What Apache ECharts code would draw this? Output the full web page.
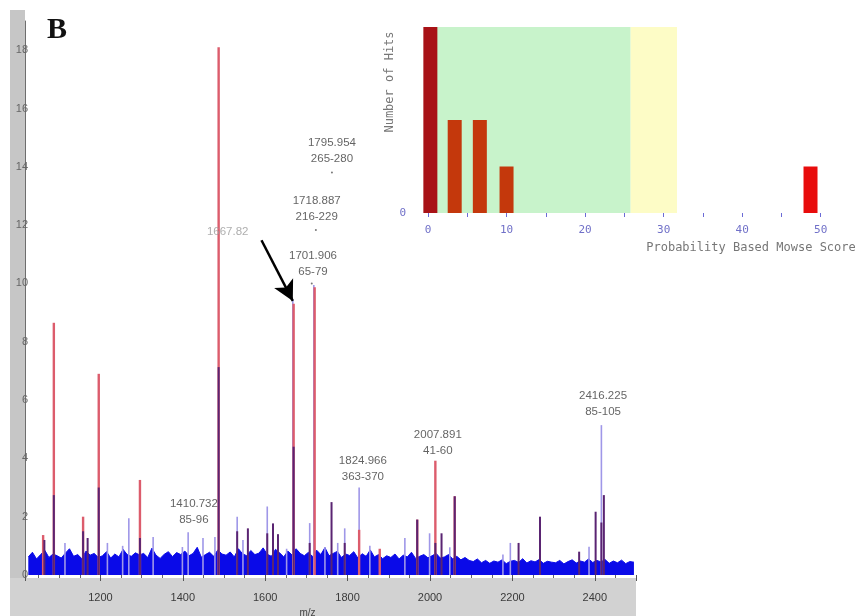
<!DOCTYPE html>
<html><head><meta charset="utf-8">
<script src="https://cdn.jsdelivr.net/npm/echarts@6/dist/echarts.min.js"></script>
<style>html,body{margin:0;padding:0;background:#fff}#c{width:860px;height:616px}</style>
</head><body><div id="c"></div>
<script>
// ===== Main spectrum data (m/z vs intensity) =====
const noiseStartMz = 1025;
const noiseStepMz = 10;
const noiseHeights = [
  0.62,0.78,0.55,0.70,0.85,0.60,0.72,0.66,
  0.58,0.75,0.90,0.64,0.70,0.56,0.82,0.68,0.74,0.60,
  0.66,0.80,0.58,0.72,0.62,0.88,0.70,0.64,0.76,0.69,
  0.74,0.60,0.92,0.68,0.57,0.71,0.80,0.63,0.77,0.70,
  0.82,0.66,0.74,0.95,0.61,0.70,0.78,0.64,0.86,0.72,
  0.68,0.79,0.62,0.90,0.73,0.66,0.84,0.70,0.75,0.93,
  0.71,0.64,0.88,0.76,0.62,0.82,0.69,0.90,0.74,0.66,
  0.78,0.63,0.85,0.70,0.94,0.66,0.74,0.81,0.60,0.72,
  0.67,0.80,0.58,0.73,0.64,0.86,0.62,0.70,0.56,0.66,
  0.60,0.72,0.55,0.68,0.62,0.78,0.57,0.64,0.70,0.59,
  0.66,0.74,0.58,0.62,0.70,0.55,0.64,0.52,0.60,0.50,
  0.46,0.55,0.42,0.50,0.40,0.48,0.44,0.52,0.39,0.47,
  0.50,0.43,0.56,0.41,0.49,0.45,0.53,0.40,0.47,0.44,
  0.42,0.50,0.38,0.46,0.52,0.41,0.48,0.44,0.55,0.43,
  0.50,0.45,0.53,0.40,0.48,0.42,0.51,0.39,0.46,0.44
];
const redMz = [1061, 1087, 1158, 1196, 1296, 1487, 1669, 1720, 1828, 1878, 1969, 2013, 2060];
const redH  = [1.37, 8.65, 2.0, 6.9, 3.26, 18.1, 9.3, 9.87, 1.55, 0.9, 1.9, 3.92, 2.7];
const purpleMz = [1064, 1087, 1158, 1169, 1196, 1296, 1487, 1532, 1558, 1605, 1619, 1631, 1669, 1708, 1761, 1793, 1969, 2013, 2028, 2060, 2215, 2267, 2362, 2402, 2416, 2422];
const purpleH  = [1.2, 2.74, 1.5, 1.27, 3.0, 1.27, 7.13, 1.5, 1.6, 1.43, 1.77, 1.4, 4.4, 1.1, 2.5, 1.1, 1.9, 1.1, 1.43, 2.7, 1.1, 2.0, 0.8, 2.17, 1.8, 2.74];
const lightMz = [1114, 1217, 1254, 1269, 1328, 1399, 1413, 1449, 1478, 1532, 1546, 1605, 1652, 1667, 1708, 1718, 1745, 1776, 1793, 1828, 1854, 1939, 1999, 2048, 2177, 2195, 2386, 2416];
const lightH  = [1.1, 1.1, 1.0, 1.95, 1.3, 0.96, 1.47, 1.27, 1.3, 2.0, 1.2, 2.35, 0.9, 9.45, 1.78, 9.95, 0.96, 1.1, 1.6, 3.0, 1.0, 1.27, 1.43, 0.95, 0.7, 1.1, 0.97, 5.14];

// annotations (data coordinates)
const annText = ['1667.82', '1701.906\n65-79', '1718.887\n216-229', '1795.954\n265-280', '1410.732\n85-96', '1824.966\n363-370', '2007.891\n41-60', '2416.225\n85-105'];
const annMz = [1509, 1716, 1725, 1762, 1427, 1837, 2019, 2420];
const annH  = [11.76, 10.68, 12.56, 14.54, 2.18, 3.65, 4.54, 5.86];
const dotMz = [1713, 1723, 1762];
const dotH  = [10.0, 11.83, 13.8];
const arrowFrom = [1591, 11.48];
const arrowTo = [1667, 9.4];

// ===== Inset histogram data =====
const scoreBins = [0.3, 3.4, 6.6, 10, 48.7];
const hits = [4, 2, 2, 1, 1];
const greenZone = [0, 25.8];
const yellowZone = [25.8, 31.7];
const barColors = ['#a81216', '#c4380c', '#c4380c', '#c4380c', '#e80c0c'];

// ===== build =====
const noiseData = noiseHeights.map((h, i) => [noiseStartMz + i * noiseStepMz, h]);
const pairs = (xs, ys) => xs.map((x, i) => [x, ys[i]]);

function stickSeries(name, data, color, width, z) {
  return {
    name, type: 'custom', xAxisIndex: 0, yAxisIndex: 0, z,
    data, encode: {x: 0, y: 1},
    renderItem: function (params, api) {
      const p0 = api.coord([api.value(0), 0]);
      const p1 = api.coord([api.value(0), api.value(1)]);
      return {type: 'line', shape: {x1: p0[0], y1: p0[1], x2: p1[0], y2: p1[1]},
              style: {stroke: color, lineWidth: width}};
    }
  };
}

const annData = annText.map((t, i) => ({
  name: t, value: [annMz[i], annH[i]],
  label: {color: i === 0 ? '#9a9a9a' : '#3c3c3c'}
}));

const chart = echarts.init(document.getElementById('c'), null, {renderer: 'canvas'});
chart.setOption({
  animation: false,
  backgroundColor: '#fff',
  graphic: [
    {type: 'rect', z: -10, shape: {x: 10, y: 10, width: 15, height: 606}, style: {fill: '#c6c6c6'}},
    {type: 'rect', z: -10, shape: {x: 10, y: 578, width: 626, height: 38}, style: {fill: '#d2d2d2'}},
    {type: 'text', z: 10, x: 47, y: 15, style: {text: 'B', font: 'bold 30px "Liberation Serif"', fill: '#111', verticalAlign: 'top'}},
    {type: 'text', z: 10, x: 390, y: 82, rotation: Math.PI / 2,
      style: {text: 'Number of Hits', font: '12px "DejaVu Sans Mono"', fill: '#777', align: 'center', verticalAlign: 'middle'}},
    {type: 'text', z: 10, x: 751, y: 248,
      style: {text: 'Probability Based Mowse Score', font: '12px "DejaVu Sans Mono"', fill: '#777', align: 'center', verticalAlign: 'middle'}}
  ],
  grid: [
    {left: 25, top: 21, width: 611, height: 554, outerBoundsMode: 'none', containLabel: false},
    {left: 428, top: 27, width: 432, height: 186, outerBoundsMode: 'none', containLabel: false}
  ],
  xAxis: [
    {gridIndex: 0, type: 'value', min: 1017, max: 2500, splitNumber: 7,
     axisLine: {show: false}, splitLine: {show: false},
     axisTick: {show: true, length: 6, lineStyle: {color: '#555'}},
     minorTick: {show: true, splitNumber: 4, length: 3, lineStyle: {color: '#666'}},
     axisLabel: {margin: 17, color: '#3a3a3a', fontSize: 11, fontFamily: 'Liberation Sans', showMinLabel: false, showMaxLabel: false,
       formatter: v => String(v)},
     name: 'm/z', nameLocation: 'middle', nameGap: 31,
     nameTextStyle: {color: '#444', fontSize: 10, fontFamily: 'Liberation Sans', padding: [0, 46, 0, 0]}},
    {gridIndex: 1, type: 'value', min: 0, max: 55, interval: 5,
     axisLine: {show: false}, splitLine: {show: false},
     axisTick: {show: true, length: 4, lineStyle: {color: '#6b6bd6'}},
     axisLabel: {margin: 12, color: '#7070c8', fontSize: 11, fontFamily: 'DejaVu Sans Mono',
       formatter: v => (v % 10 === 0 && v <= 50) ? String(v) : ''}}
  ],
  yAxis: [
    {gridIndex: 0, type: 'value', min: 0, max: 19, interval: 2,
     axisLine: {show: true, lineStyle: {color: '#6e6e6e', width: 1}},
     axisTick: {show: false}, splitLine: {show: false},
     axisLabel: {margin: -3, color: '#666', fontSize: 11, fontFamily: 'Liberation Sans', showMaxLabel: false}},
    {gridIndex: 1, type: 'value', min: 0, max: 4, interval: 1,
     axisLine: {show: false}, axisTick: {show: false}, splitLine: {show: false},
     axisLabel: {margin: 22, color: '#7070c8', fontSize: 11, fontFamily: 'DejaVu Sans Mono',
       formatter: v => v === 0 ? '0' : ''}}
  ],
  series: [
    {name: 'noise', type: 'line', xAxisIndex: 0, yAxisIndex: 0, z: 1,
     data: noiseData, symbol: 'none',
     lineStyle: {color: '#0a0ae8', width: 1}, areaStyle: {color: '#0a0ae8', opacity: 1}},
    stickSeries('light', pairs(lightMz, lightH), '#9f97e8', 1.6, 3),
    stickSeries('red', pairs(redMz, redH), '#dc5c6c', 2.4, 4),
    stickSeries('purple', pairs(purpleMz, purpleH), '#5a2472', 2, 5),
    {name: 'dots', type: 'scatter', xAxisIndex: 0, yAxisIndex: 0, z: 6,
     data: pairs(dotMz, dotH), symbolSize: 2, itemStyle: {color: '#555'}},
    {name: 'labels', type: 'scatter', xAxisIndex: 0, yAxisIndex: 0, z: 7,
     data: annData, symbolSize: 1, itemStyle: {color: 'rgba(0,0,0,0)'},
     label: {show: true, position: 'inside', formatter: '{b}', fontSize: 11.5, lineHeight: 16,
             fontFamily: 'Liberation Sans', align: 'center'},
     markLine: {silent: true, symbol: ['none', 'arrow'], symbolSize: [16, 20],
       label: {show: false},
       lineStyle: {color: '#000', width: 2.5, type: 'solid'},
       data: [[{coord: arrowFrom}, {coord: arrowTo}]]}},
    {name: 'hits', type: 'bar', xAxisIndex: 1, yAxisIndex: 1, z: 3, clip: false,
     data: pairs(scoreBins, hits), barWidth: 14,
     itemStyle: {color: p => barColors[p.dataIndex]},
     markArea: {silent: true, z: 1,
       data: [
         [{xAxis: greenZone[0], yAxis: 0, itemStyle: {color: '#c8f3cb'}}, {xAxis: greenZone[1], yAxis: 4}],
         [{xAxis: yellowZone[0], yAxis: 0, itemStyle: {color: '#fdfcc6'}}, {xAxis: yellowZone[1], yAxis: 4}]
       ]},
     markLine: {silent: true, symbol: ['none', 'none'], label: {show: false},
       lineStyle: {color: '#5a5ad8', width: 1.5, type: 'solid'},
       data: [[{coord: [-1, 0]}, {coord: [55, 0]}]]}}
  ]
});
</script></body></html>
